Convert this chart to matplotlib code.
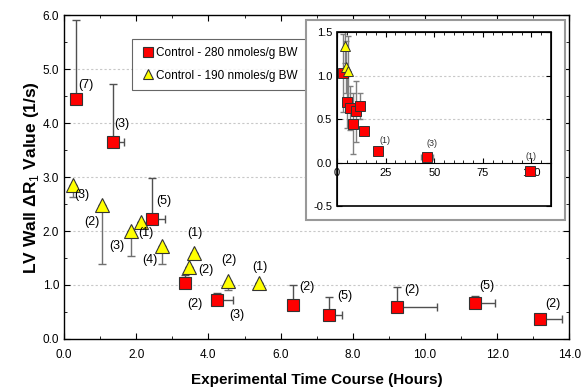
import matplotlib
matplotlib.use("Agg")
import matplotlib.pyplot as plt
from matplotlib.patches import Rectangle
from matplotlib.ticker import MultipleLocator, FormatStrFormatter

plt.rcParams['font.family'] = ['Liberation Sans', 'DejaVu Sans']
plt.rcParams['mathtext.fontset'] = 'custom'
plt.rcParams['mathtext.rm'] = 'Liberation Sans'

# main plot: 280 nmoles/g BW (red squares)
red_x = [0.32, 1.36, 2.43, 3.35, 4.24, 6.34, 7.34, 9.22, 11.39, 13.17]
red_y = [4.44, 3.65, 2.23, 1.04, 0.72, 0.63, 0.44, 0.59, 0.66, 0.37]
red_yerr_up = [1.47, 1.07, 0.75, 0.15, 0.13, 0.37, 0.34, 0.38, 0.14, 0.0]
red_xerr_right = [0.0, 0.30, 0.37, 0.0, 0.43, 0.0, 0.37, 1.10, 0.56, 0.62]
red_n = ["(7)", "(3)", "(5)", "(2)", "(3)", "(2)", "(5)", "(2)", "(5)", "(2)"]
red_lab_x = [0.61, 1.61, 2.77, 3.62, 4.79, 6.72, 7.78, 9.63, 11.72, 13.53]
red_lab_y = [4.70, 3.98, 2.56, 0.65, 0.44, 0.96, 0.80, 0.91, 0.98, 0.65]

# main plot: 190 nmoles/g BW (yellow triangles)
yel_x = [0.26, 1.06, 1.85, 2.13, 2.72, 3.47, 3.60, 4.54, 5.40]
yel_y = [2.85, 2.48, 2.00, 2.17, 1.72, 1.33, 1.59, 1.07, 1.03]
yel_yerr_down = [0.22, 1.09, 0.46, 0.0, 0.33, 0.0, 0.0, 0.17, 0.0]
yel_n = ["(3)", "(2)", "(3)", "(1)", "(4)", "(2)", "(1)", "(2)", "(1)"]
yel_lab_x = [0.49, 0.77, 1.47, 2.27, 2.38, 3.93, 3.62, 4.57, 5.42]
yel_lab_y = [2.67, 2.17, 1.72, 1.96, 1.46, 1.28, 1.96, 1.46, 1.33]

# inset
in_red_x = [2.9, 4.9, 6.8, 8.0, 9.7, 12.0, 14.0, 21.3, 46.3, 99.0]
in_red_y = [1.03, 0.70, 0.63, 0.45, 0.59, 0.65, 0.36, 0.14, 0.07, -0.09]
in_red_yerr = [0.45, 0.30, 0.25, 0.35, 0.35, 0.15, 0.0, 0.0, 0.0, 0.0]
in_red_xerr = [0, 0, 0, 0, 0, 0, 0, 0, 3.0, 0]
in_red_n = ["(1)", "(3)", "(1)"]
in_lab_x = [24.7, 49.1, 99.5]
in_lab_y = [0.26, 0.22, 0.07]
in_yel_x = [4.1, 4.6, 5.8]
in_yel_y = [1.34, 1.10, 1.05]
in_yel_yerr = [0.2, 0.3, 0.4]

fig = plt.figure(figsize=(5.83, 3.91), dpi=100)
ax = fig.add_axes([0.1098, 0.133, 0.8670, 0.8286])

ax.set_xlim(0, 14)
ax.set_ylim(0, 6)
ax.xaxis.set_major_locator(MultipleLocator(2))
ax.xaxis.set_minor_locator(MultipleLocator(1))
ax.yaxis.set_major_locator(MultipleLocator(1))
ax.yaxis.set_minor_locator(MultipleLocator(0.5))
ax.xaxis.set_major_formatter(FormatStrFormatter('%.1f'))
ax.yaxis.set_major_formatter(FormatStrFormatter('%.1f'))
ax.tick_params(which='both', direction='in', top=True, right=True, labelsize=8.5)
ax.tick_params(axis='x', which='both', pad=7)
ax.tick_params(which='major', length=4)
ax.tick_params(which='minor', length=2.5)
for s in ax.spines.values():
    s.set_linewidth(1.0)
for yv in [1, 2, 3, 4, 5]:
    ax.axhline(yv, color='#c8c8c8', lw=0.8, ls=(0, (2, 2)), zorder=0)

ax.errorbar(yel_x, yel_y, yerr=[yel_yerr_down, [0] * len(yel_x)], fmt='none',
            ecolor='#707070', elinewidth=1, capsize=3, zorder=2)
ax.plot(yel_x, yel_y, '^', ms=9.5, mfc='#ffff00', mec='#333333', mew=0.8,
        ls='none', zorder=3, label='Control - 190 nmoles/g BW')
ax.errorbar(red_x, red_y, yerr=[[0] * len(red_x), red_yerr_up],
            xerr=[[0] * len(red_x), red_xerr_right], fmt='none',
            ecolor='#505050', elinewidth=1, capsize=3, zorder=2)
ax.plot(red_x, red_y, 's', ms=9, mfc='#ff0000', mec='#333333', mew=0.8,
        ls='none', zorder=4, label='Control - 280 nmoles/g BW')

for x, y, t in zip(red_lab_x, red_lab_y, red_n):
    ax.text(x, y, t, fontsize=9, ha='center', va='center', zorder=5)
for x, y, t in zip(yel_lab_x, yel_lab_y, yel_n):
    ax.text(x, y, t, fontsize=9, ha='center', va='center', zorder=5)

h, l = ax.get_legend_handles_labels()
leg = ax.legend(h[::-1], l[::-1], loc='upper left', bbox_to_anchor=(0.122, 0.945),
                fontsize=8.5, frameon=True, fancybox=False, borderpad=0.7,
                handletextpad=0.1, labelspacing=0.9, markerscale=0.75,
                handlelength=1.3)
leg.get_frame().set_edgecolor('#404040')
leg.get_frame().set_linewidth(0.8)

ax.set_xlabel('Experimental Time Course (Hours)', fontsize=11, fontweight='bold', labelpad=9)
ax.set_ylabel('LV Wall \u0394R$_1$ Value (1/s)', fontsize=12.5, fontweight='bold', labelpad=1)

# inset box
box = Rectangle((306 / 583, 1 - 220 / 391), (565 - 306) / 583, 200 / 391,
                transform=fig.transFigure, facecolor='white', edgecolor='#999999',
                lw=1.5, zorder=5)
fig.patches.append(box)

ins = fig.add_axes([0.578, 0.4719, 0.367, 0.4463], zorder=6)
ins.set_xlim(0, 110)
ins.set_ylim(-0.5, 1.5)
ins.spines['bottom'].set_position(('data', 0))
ins.add_patch(Rectangle((0, 0), 1, 1, transform=ins.transAxes, fill=False,
                        lw=1.2, edgecolor='black', clip_on=False))
ins.xaxis.set_major_locator(MultipleLocator(25))
ins.xaxis.set_minor_locator(MultipleLocator(5))
ins.yaxis.set_major_locator(MultipleLocator(0.5))
ins.yaxis.set_major_formatter(FormatStrFormatter('%.1f'))
ins.tick_params(which='both', direction='in', top=True, right=True, labelsize=8)
ins.tick_params(axis='x', which='major', length=3.5)
ins.tick_params(axis='x', which='minor', length=2)
ins.set_xticks([0, 25, 50, 75, 100])
for yv in [0.5, 1.0]:
    ins.axhline(yv, color='#c8c8c8', lw=0.8, ls=(0, (2, 2)), zorder=0)

ins.errorbar(in_yel_x, in_yel_y, yerr=in_yel_yerr, fmt='none', ecolor='#808080',
             elinewidth=1, capsize=2, zorder=2)
ins.errorbar(in_red_x, in_red_y, yerr=in_red_yerr, xerr=in_red_xerr, fmt='none',
             ecolor='#808080', elinewidth=1, capsize=2, zorder=2)
ins.plot(in_red_x, in_red_y, 's', ms=6.5, mfc='#ff0000', mec='#333333', mew=0.7,
         ls='none', zorder=3, clip_on=False)
ins.plot(in_yel_x, in_yel_y, '^', ms=7, mfc='#ffff00', mec='#333333', mew=0.7,
         ls='none', zorder=4, clip_on=False)
for x, y, t in zip(in_lab_x, in_lab_y, in_red_n):
    ins.text(x, y, t, fontsize=6.5, ha='center', va='center', color='#333333')

fig.savefig('out.png', dpi=100)
